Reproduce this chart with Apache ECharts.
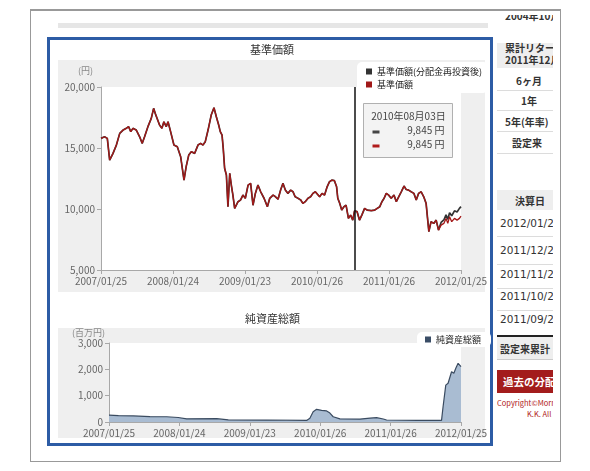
<!DOCTYPE html>
<html><head><meta charset="utf-8">
<script src="https://cdn.jsdelivr.net/npm/echarts@6/dist/echarts.min.js"></script>
<style>
body{margin:0;background:#fff;font-family:'Noto Sans CJK JP',sans-serif;}
.a{position:absolute;}
#side div{position:absolute;white-space:nowrap;}
.hd{background:#eeeeee;}
.b{font-weight:bold;color:#333;font-size:10px;}
.d{color:#333;font-size:10.5px;left:3px;font-family:'DejaVu Sans',sans-serif;}
.ln{height:1px;background:#dcdcdc;left:0;width:60px;}
</style></head><body>
<div class="a" style="left:30px;top:9px;width:531px;height:453px;border:1px solid #999;border-top:2px solid #999;box-sizing:border-box;"></div>
<div class="a" style="left:58px;top:23px;width:430px;height:5px;background:#e6e6e6;"></div>
<div class="a" style="left:47px;top:37px;width:446px;height:409px;border:3px solid #2d5ca5;box-sizing:border-box;"></div>
<div class="a" style="left:58px;top:60px;width:427px;height:232px;background:#efefef;"></div>
<div class="a" style="left:58px;top:328px;width:427px;height:110px;background:#efefef;"></div>
<div class="a" style="left:505px;top:15px;width:48px;height:7px;overflow:hidden;">
  <div style="position:absolute;top:-7px;left:0;font-size:10px;font-weight:bold;color:#333;white-space:nowrap;">2004年10月</div>
</div>
<div id="side" class="a" style="left:497px;top:0;width:56px;height:471px;overflow:hidden;">
  <div class="hd" style="left:0;top:43px;width:60px;height:25px;"></div>
  <div class="b" style="left:8px;top:42px;line-height:12px;">累計リターン<br>2011年12月末</div>
  <div class="b" style="left:19px;top:73px;">6ヶ月</div>
  <div class="ln" style="top:90px;"></div>
  <div class="b" style="left:24px;top:93px;">1年</div>
  <div class="ln" style="top:110px;"></div>
  <div class="b" style="left:8px;top:114px;">5年(年率)</div>
  <div class="ln" style="top:131px;"></div>
  <div class="b" style="left:15px;top:135px;">設定来</div>
  <div class="ln" style="top:153px;"></div>
  <div class="hd" style="left:0;top:190px;width:60px;height:20px;"></div>
  <div class="b" style="left:18px;top:193px;">決算日</div>
  <div class="d" style="top:217px;">2012/01/25</div>
  <div class="ln" style="top:236px;"></div>
  <div class="d" style="top:244px;">2011/12/26</div>
  <div class="ln" style="top:264px;"></div>
  <div class="d" style="top:268px;">2011/11/25</div>
  <div class="ln" style="top:288px;"></div>
  <div class="d" style="top:290px;">2011/10/25</div>
  <div class="ln" style="top:310px;"></div>
  <div class="d" style="top:313px;">2011/09/26</div>
  <div style="left:0;top:335px;width:60px;height:2px;background:#222;"></div>
  <div class="hd" style="left:0;top:337px;width:60px;height:22px;border-bottom:1px solid #ccc;"></div>
  <div class="b" style="left:3px;top:341px;">設定来累計</div>
  <div style="left:0;top:370px;width:60px;height:23px;background:#a31c1c;"></div>
  <div style="left:6px;top:374px;color:#fff;font-weight:bold;font-size:10.5px;">過去の分配金</div>
  <div style="left:0;top:397px;color:#b02020;font-size:7.5px;">Copyright©Morningstar</div>
  <div style="left:30px;top:408px;color:#b02020;font-size:7.5px;">K.K. All Rights</div>
</div>
<div id="chart" class="a" style="left:0;top:0;width:590px;height:471px;"></div>
<script>
// ---- data ----
const startDate = '2007-01-25';
const xTickLabels = ['2007/01/25','2008/01/24','2009/01/23','2010/01/26','2011/01/26','2012/01/25'];
const priceDates = ['2007-01-25','2007-02-12','2007-02-26','2007-03-10','2007-03-18','2007-03-27','2007-04-13','2007-04-30','2007-05-17','2007-06-02','2007-06-14','2007-06-25','2007-07-06','2007-07-23','2007-08-09','2007-08-22','2007-09-03','2007-09-20','2007-10-07','2007-10-19','2007-10-27','2007-11-06','2007-11-18','2007-11-30','2007-12-10','2007-12-22','2007-12-31','2008-01-13','2008-01-30','2008-02-16','2008-03-04','2008-03-21','2008-04-01','2008-04-14','2008-04-27','2008-05-14','2008-05-31','2008-06-13','2008-06-25','2008-07-07','2008-07-21','2008-08-06','2008-08-20','2008-09-01','2008-09-13','2008-09-21','2008-09-30','2008-10-06','2008-10-13','2008-10-22','2008-10-30','2008-11-08','2008-11-16','2008-11-24','2008-12-03','2008-12-11','2008-12-20','2009-01-02','2009-01-14','2009-01-26','2009-02-09','2009-02-22','2009-03-06','2009-03-18','2009-03-31','2009-04-14','2009-05-01','2009-05-18','2009-05-30','2009-06-16','2009-06-28','2009-07-11','2009-07-24','2009-08-05','2009-08-17','2009-08-30','2009-09-13','2009-09-25','2009-10-06','2009-10-20','2009-11-03','2009-11-14','2009-11-26','2009-12-10','2009-12-23','2010-01-04','2010-01-16','2010-01-26','2010-02-07','2010-02-19','2010-03-04','2010-03-17','2010-03-29','2010-04-10','2010-04-23','2010-05-04','2010-05-10','2010-05-20','2010-05-30','2010-06-10','2010-06-21','2010-07-03','2010-07-14','2010-07-25','2010-08-03','2010-08-16','2010-08-28','2010-09-09','2010-09-23','2010-10-06','2010-10-27','2010-11-13','2010-11-26','2010-12-09','2010-12-20','2010-12-31','2011-01-11','2011-01-23','2011-02-05','2011-02-19','2011-03-03','2011-03-15','2011-03-28','2011-04-11','2011-04-22','2011-05-04','2011-05-17','2011-05-31','2011-06-12','2011-06-24','2011-07-07','2011-07-20','2011-08-01','2011-08-10','2011-08-15','2011-08-26','2011-09-09','2011-09-21','2011-10-03','2011-10-16','2011-10-30','2011-11-10','2011-11-19','2011-11-28','2011-12-09','2011-12-23','2012-01-05','2012-01-17','2012-01-25'];
const priceValues = [15790,15920,15790,14010,14150,14560,15240,16200,16470,16610,16750,16340,16610,16470,15920,15380,15920,16750,17430,18250,17840,17970,16880,16610,17150,16750,17150,16340,15240,15110,14290,12370,13470,14420,14700,14560,15240,15380,15240,15520,16470,17700,18300,17560,16880,16340,16060,14970,13340,12790,10190,12920,11960,11140,10050,9910,10600,10740,11140,10880,11960,12100,10310,11280,11960,11410,10880,10190,10880,11140,11000,10800,11550,12100,11550,11280,11550,11410,11000,10880,10740,10460,10600,10880,11000,11280,11410,11280,11000,11280,11140,11820,12240,12370,12320,11820,10880,10460,9910,10190,10310,9230,9500,9090,9845,9780,9090,9500,10050,9910,9860,9910,10050,10190,10600,10880,11280,11140,10880,11140,10600,11000,11410,11880,11600,11550,11410,11280,10740,11280,11410,11000,10460,8960,8140,8960,8820,9090,8270,8680,8820,9230,8820,9370,8960,9230,9090,9230,9420];
const reinvestValues = [15790,15920,15790,14010,14150,14560,15240,16200,16470,16610,16750,16340,16610,16470,15920,15380,15920,16750,17430,18250,17840,17970,16880,16610,17150,16750,17150,16340,15240,15110,14290,12370,13470,14420,14700,14560,15240,15380,15240,15520,16470,17700,18300,17560,16880,16340,16060,14970,13340,12790,10190,12920,11960,11140,10050,9910,10600,10740,11140,10880,11960,12100,10310,11280,11960,11410,10880,10190,10880,11140,11000,10800,11550,12100,11550,11280,11550,11410,11000,10880,10740,10460,10600,10880,11000,11280,11410,11280,11000,11280,11140,11820,12240,12370,12320,11820,10880,10460,9910,10190,10310,9230,9500,9090,9845,9780,9090,9500,10050,9910,9860,9910,10050,10190,10600,10880,11280,11140,10880,11140,10600,11000,11410,11880,11600,11550,11410,11280,10740,11280,11410,11000,10460,8960,8140,8960,8820,9090,8270,8900,9100,9520,9150,9700,9450,9850,9760,10050,10190];
const assetDates = ['2007-01-25','2007-03-15','2007-05-31','2007-08-25','2007-11-20','2008-01-19','2008-03-03','2008-08-06','2008-10-05','2009-04-22','2009-11-15','2009-12-02','2009-12-19','2010-01-06','2010-02-01','2010-02-27','2010-03-16','2010-04-02','2010-05-07','2010-08-19','2010-10-10','2010-11-13','2010-12-18','2011-01-04','2011-06-09','2011-10-16','2011-10-24','2011-11-07','2011-11-19','2011-11-28','2011-12-07','2011-12-19','2011-12-29','2012-01-10','2012-01-25'];
const assetValues = [260,245,230,205,200,170,120,125,80,75,60,140,390,480,440,420,340,200,120,110,150,165,115,75,60,60,580,1400,1470,1530,1910,1850,2040,2230,2100];
const tipDate = '2010-08-03';
const priceTicks = [5000,20000,5000];
const assetTicks = [0,3000,1000];

// ---- build ----
const DAY = 86400000, YEAR = 365.2;
const t0 = Date.parse(startDate);
const toX = d => (Date.parse(d) - t0) / DAY / YEAR;
const pair = (ds, vs) => ds.map((d, i) => [toX(d), vs[i]]);
const fmt = v => v.toLocaleString('en-US');
const FONT = "'Noto Sans CJK JP', sans-serif";
const tipIdx = priceDates.indexOf(tipDate);
const tipTitle = tipDate.replace(/^(\d+)-(\d+)-(\d+)$/, '$1年$2月$3日');

function xAxis(gi) {
  return {
    gridIndex: gi, type: 'value', min: 0, max: 5, interval: 1,
    axisLine: {show: true, lineStyle: {color: '#a8a8a8'}},
    axisTick: {show: true, length: 4, lineStyle: {color: '#a8a8a8'}},
    axisLabel: {fontSize: 10, color: '#666', margin: 6, fontFamily: FONT,
      formatter: v => xTickLabels[Math.round(v)] || ''},
    splitLine: {show: false}
  };
}
function yAxis(gi, t) {
  return {
    gridIndex: gi, type: 'value', min: t[0], max: t[1], interval: t[2],
    axisLine: {show: true, lineStyle: {color: '#a8a8a8'}},
    axisTick: {show: true, length: 4, lineStyle: {color: '#a8a8a8'}},
    axisLabel: {fontSize: 10, color: '#666', margin: 6, fontFamily: FONT, formatter: fmt},
    splitLine: {show: false}
  };
}
const legendCommon = {
  orient: 'vertical', icon: 'rect', itemWidth: 6, itemHeight: 6, itemGap: 4,
  backgroundColor: '#fff', borderRadius: 5, selectedMode: false,
  textStyle: {fontSize: 9, color: '#222', fontFamily: FONT}
};
const chart = echarts.init(document.getElementById('chart'));
chart.setOption({
  backgroundColor: 'transparent',
  animation: false,
  textStyle: {fontFamily: FONT},
  grid: [
    {left: 101, right: 129, top: 87, bottom: 201, show: true, backgroundColor: '#fff', borderWidth: 0},
    {left: 109, right: 129, top: 343, bottom: 49, show: true, backgroundColor: '#fff', borderWidth: 0}
  ],
  xAxis: [xAxis(0), xAxis(1)],
  yAxis: [yAxis(0, priceTicks), yAxis(1, assetTicks)],
  legend: [
    Object.assign({}, legendCommon, {left: 357, top: 62, padding: [5, 6, 4, 9], data: ['基準価額(分配金再投資後)', '基準価額']}),
    Object.assign({}, legendCommon, {left: 417, top: 332, padding: [3, 10, 3, 8], data: ['純資産総額']})
  ],
  series: [
    {name: '基準価額(分配金再投資後)', type: 'line', xAxisIndex: 0, yAxisIndex: 0, showSymbol: false,
      data: pair(priceDates, reinvestValues), itemStyle: {color: '#333'}, lineStyle: {color: '#333', width: 1.7}},
    {name: '基準価額', type: 'line', xAxisIndex: 0, yAxisIndex: 0, showSymbol: false,
      data: pair(priceDates, priceValues), itemStyle: {color: '#a01818'}, lineStyle: {color: '#a31818', width: 1.3},
      markLine: {silent: true, symbol: ['none', 'none'], label: {show: false},
        lineStyle: {color: '#111', width: 1.5, type: 'solid'}, data: [{xAxis: toX(tipDate)}]}},
    {name: '純資産総額', type: 'line', xAxisIndex: 1, yAxisIndex: 1, showSymbol: false,
      data: pair(assetDates, assetValues), itemStyle: {color: '#3a4d66'},
      lineStyle: {color: '#3a4b60', width: 1.2}, areaStyle: {color: '#a9bcd2', opacity: 1}}
  ],
  graphic: [
    {type: 'text', left: 250, top: 44, style: {text: '基準価額', fill: '#333', font: "11px 'Noto Sans CJK JP'"}},
    {type: 'text', left: 245, top: 313, style: {text: '純資産総額', fill: '#333', font: "11px 'Noto Sans CJK JP'"}},
    {type: 'text', left: 78, top: 66, style: {text: '(円)', font: "9px 'Noto Sans CJK JP'", fill: '#888'}},
    {type: 'text', left: 72, top: 328, style: {text: '(百万円)', font: "9px 'Noto Sans CJK JP'", fill: '#888'}},
    {type: 'group', left: 363, top: 103, children: [
      {type: 'rect', shape: {x: 0, y: 0, width: 89, height: 54}, style: {fill: '#f3f3f3', stroke: '#b0b0b0', lineWidth: 1}},
      {type: 'text', x: 45, y: 8, style: {text: tipTitle, font: "10px 'Noto Sans CJK JP'", fill: '#444', align: 'center'}},
      {type: 'rect', shape: {x: 9, y: 27, width: 7, height: 3}, style: {fill: '#444'}},
      {type: 'text', x: 81, y: 22, style: {text: fmt(reinvestValues[tipIdx]) + ' 円', font: "10px 'Noto Sans CJK JP'", fill: '#444', align: 'right'}},
      {type: 'rect', shape: {x: 9, y: 41, width: 7, height: 3}, style: {fill: '#b01c1c'}},
      {type: 'text', x: 81, y: 36, style: {text: fmt(priceValues[tipIdx]) + ' 円', font: "10px 'Noto Sans CJK JP'", fill: '#444', align: 'right'}}
    ]}
  ]
});
</script>
</body></html>
